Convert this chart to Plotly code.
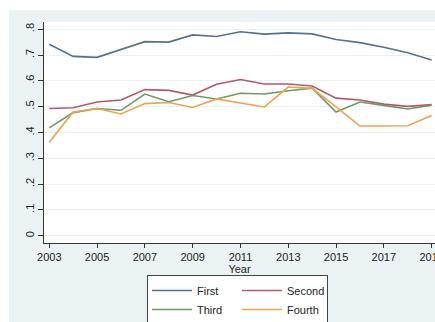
import plotly.graph_objects as go

years = list(range(2003, 2020))
first = [0.742, 0.695, 0.691, 0.722, 0.752, 0.750, 0.778, 0.772, 0.790, 0.781,
         0.786, 0.782, 0.760, 0.748, 0.730, 0.709, 0.681]
second = [0.493, 0.496, 0.518, 0.526, 0.566, 0.563, 0.545, 0.587, 0.605, 0.588,
          0.588, 0.580, 0.533, 0.526, 0.510, 0.501, 0.508]
third = [0.418, 0.477, 0.493, 0.486, 0.549, 0.519, 0.543, 0.530, 0.552, 0.549,
         0.562, 0.572, 0.479, 0.518, 0.505, 0.491, 0.506]
fourth = [0.362, 0.479, 0.493, 0.472, 0.512, 0.516, 0.497, 0.530, 0.514, 0.499,
          0.576, 0.571, 0.499, 0.425, 0.425, 0.426, 0.466]

series_names = ["First", "Second", "Third", "Fourth"]
legend_groups = ["a", "b", "a", "b"]
colors = ["#56718f", "#b25a6c", "#749660", "#eda24e"]

x_tickvals = [2003, 2005, 2007, 2009, 2011, 2013, 2015, 2017, 2019]
y_tickvals = [0, 0.1, 0.2, 0.3, 0.4, 0.5, 0.6, 0.7, 0.8]
y_ticktext = ["0", ".1", ".2", ".3", ".4", ".5", ".6", ".7", ".8"]

W, H = 435, 322
L, R, T, B = 44, 0, 22, 79
pw = W - L - R
ph = H - T - B

def px_x(p):
    return (p - L) / pw

def px_y(p):
    return (H - B - p) / ph

fig = go.Figure()
for name, vals, c, g in zip(series_names, [first, second, third, fourth], colors, legend_groups):
    fig.add_trace(go.Scatter(x=years, y=vals, mode="lines", name=name,
                             legendgroup=g,
                             line=dict(color=c, width=1.6)))

font = dict(family="Liberation Sans, Arial, sans-serif", size=11, color="#222222")

fig.update_layout(
    width=W, height=H,
    margin=dict(l=L, r=R, t=T, b=B, pad=0, autoexpand=False),
    paper_bgcolor="#eaf2f3",
    plot_bgcolor="#ffffff",
    font=font,
    showlegend=True,
    legend=dict(
        orientation="h",
        x=px_x(147), xanchor="left",
        y=px_y(275), yanchor="top",
        bgcolor="#ffffff", bordercolor="#444444", borderwidth=1,
        itemwidth=40,
        entrywidth=35, entrywidthmode="pixels",
        traceorder="grouped", tracegroupgap=0,
        font=dict(family="Liberation Sans, Arial, sans-serif", size=11, color="#222222"),
    ),
    xaxis=dict(
        range=[2002.78, 2019.14],
        tickvals=x_tickvals,
        ticks="outside", ticklen=4, tickcolor="#333333", tickwidth=1,
        ticklabeloverflow="allow",
        showline=True, linecolor="#333333", linewidth=1,
        showgrid=False, zeroline=False,
        title=dict(text="Year", font=font, standoff=1),
        automargin=False,
    ),
    yaxis=dict(
        range=[-0.028, 0.828],
        tickvals=y_tickvals, ticktext=y_ticktext,
        tickangle=-90,
        ticks="outside", ticklen=5, tickcolor="#333333", tickwidth=1,
        showline=True, linecolor="#333333", linewidth=1,
        showgrid=True, gridcolor="#eaf2f3", gridwidth=1,
        zeroline=False,
        automargin=False,
    ),
    shapes=[
        dict(type="rect", xref="paper", yref="paper",
             x0=px_x(-5), x1=px_x(W + 5), y0=px_y(10), y1=px_y(-5),
             fillcolor="#ffffff", line=dict(width=0), layer="above"),
        dict(type="rect", xref="paper", yref="paper",
             x0=px_x(-5), x1=px_x(9), y0=px_y(H + 5), y1=px_y(-5),
             fillcolor="#ffffff", line=dict(width=0), layer="above"),
    ],
)

fig.write_html("out.html")
